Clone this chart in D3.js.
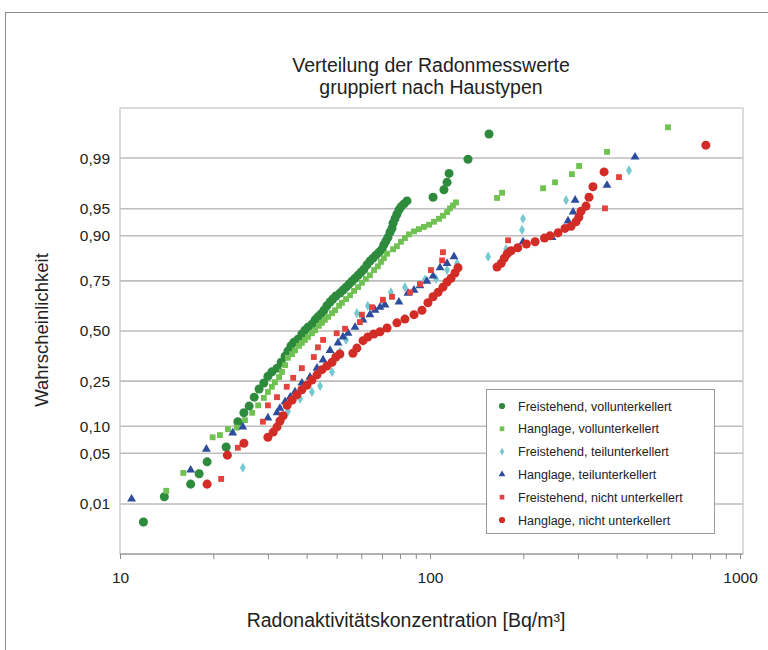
<!DOCTYPE html>
<html>
<head>
<meta charset="utf-8">
<script src="https://cdn.jsdelivr.net/npm/d3@7"></script>
<style>
  body { margin: 0; background: #fff; }
  svg text { font-family: "Liberation Sans", Arial, sans-serif; fill: #222; }
</style>
</head>
<body>
<div id="chart"></div>
<script>
// Values: concentration [Bq/m³] and normal score of the plotting position
const fvConc = [11.9,13.9,16.9,18.0,19.1,22.0,24.0,25.1,26.1,27.1,28.1,29.1,30.0,30.9,32.1,33.1,34.1,34.8,35.6,36.4,37.5,38.6,39.5,40.4,41.6,42.6,43.5,44.5,45.5,46.5,47.6,48.6,49.7,51.2,52.4,53.6,54.8,56.0,57.3,58.6,59.9,61.2,62.6,64.0,65.5,66.9,68.5,70.0,71.0,72.1,73.2,74.3,75.4,76.0,77.1,78.2,79.4,80.6,82.4,84.3,102.3,110.9,113.5,115.2,132.6,155.0];
const fvZ = [-2.57,-2.23,-2.06,-1.92,-1.76,-1.56,-1.22,-1.10,-1.01,-0.89,-0.78,-0.70,-0.61,-0.55,-0.50,-0.42,-0.34,-0.27,-0.20,-0.15,-0.11,-0.04,0.01,0.05,0.09,0.15,0.19,0.23,0.28,0.34,0.39,0.43,0.47,0.51,0.55,0.59,0.63,0.67,0.71,0.75,0.79,0.83,0.89,0.94,0.98,1.02,1.06,1.10,1.16,1.21,1.26,1.33,1.38,1.45,1.51,1.57,1.63,1.67,1.71,1.75,1.80,1.90,2.00,2.12,2.31,2.65];

const hvConc = [14.1,16.0,19.9,21.0,22.3,23.8,25.3,26.7,27.9,29.1,30.0,30.9,31.6,32.6,33.3,34.1,34.8,35.9,36.7,37.8,38.6,39.5,40.4,41.6,42.6,43.8,44.8,45.8,46.9,48.3,49.4,50.9,52.0,53.6,55.2,56.9,58.6,60.3,62.1,64.0,66.0,67.9,69.5,71.0,72.7,76.0,78.2,80.6,83.0,85.5,88.8,92.1,95.6,99.3,103.0,106.9,110.1,113.5,116.0,118.6,121.3,164.5,170.8,231.6,253.1,286.9,302.6,372.4,585.7];
const hvZ = [-2.15,-1.91,-1.43,-1.40,-1.32,-1.30,-1.20,-1.10,-1.00,-0.90,-0.82,-0.75,-0.69,-0.62,-0.55,-0.46,-0.36,-0.31,-0.26,-0.20,-0.16,-0.12,-0.08,-0.03,0.01,0.07,0.11,0.15,0.19,0.24,0.28,0.34,0.38,0.43,0.48,0.54,0.59,0.65,0.70,0.75,0.82,0.87,0.93,0.98,1.04,1.10,1.14,1.20,1.25,1.30,1.34,1.37,1.40,1.43,1.47,1.51,1.55,1.60,1.65,1.69,1.73,1.79,1.86,1.92,2.00,2.11,2.22,2.41,2.74];

const ftConc = [24.9,33.3,34.8,38.1,41.6,44.2,48.3,51.2,53.6,58.1,63.0,70.5,74.8,83.0,96.3,104.6,113.5,122.3,154.0,176.0,198.1,199.6,274.7,438.5];
const ftZ = [-1.84,-1.21,-1.08,-0.91,-0.82,-0.74,-0.55,-0.28,-0.12,0.24,0.34,0.40,0.52,0.59,0.69,0.70,0.82,0.91,1.00,1.10,1.36,1.51,1.76,2.16];

const htConc = [10.9,16.9,19.0,23.1,24.9,30.0,32.1,32.8,34.1,35.4,36.7,38.6,41.0,43.2,45.2,47.6,50.5,52.4,54.4,57.3,60.8,64.0,66.5,69.0,71.6,79.4,84.9,88.8,92.8,97.7,102.3,107.7,113.5,119.5,177.5,199.6,247.5,278.8,289.5,293.9,372.4,458.5];
const htZ = [-2.26,-1.87,-1.59,-1.37,-1.29,-1.17,-1.10,-1.04,-0.95,-0.89,-0.82,-0.70,-0.62,-0.50,-0.39,-0.26,-0.16,-0.08,-0.03,0.05,0.15,0.22,0.28,0.32,0.35,0.39,0.51,0.55,0.61,0.67,0.74,0.85,0.91,1.00,1.05,1.20,1.26,1.48,1.60,1.76,1.96,2.34];

const fnConc = [21.2,24.0,28.9,30.0,32.1,34.5,36.2,38.6,42.2,43.5,45.2,50.0,53.2,59.4,60.3,65.0,70.5,75.4,86.2,92.8,100.7,109.4,110.1,178.6,366.8,407.0];
const fnZ = [-1.99,-1.57,-1.22,-1.00,-0.89,-0.75,-0.63,-0.50,-0.35,-0.22,-0.12,-0.03,0.03,0.12,0.22,0.32,0.42,0.46,0.52,0.63,0.82,0.95,1.06,1.22,1.65,2.07];

const hnConc = [19.1,22.2,25.1,30.0,31.2,32.1,32.8,33.6,34.6,35.9,37.2,38.6,40.1,41.6,43.2,44.8,46.5,48.3,49.7,51.2,56.4,58.1,60.8,63.0,65.9,69.0,72.7,78.2,83.0,88.8,94.2,98.5,102.3,106.2,110.1,113.5,116.9,120.4,123.1,164.5,169.7,173.6,177.5,182.6,191.9,204.6,218.3,234.0,243.9,258.8,272.6,285.1,295.9,302.0,307.0,318.6,325.8,335.5,364.4,776.0];
const hnZ = [-2.06,-1.67,-1.51,-1.43,-1.36,-1.29,-1.21,-1.14,-1.00,-0.93,-0.86,-0.79,-0.73,-0.66,-0.59,-0.52,-0.47,-0.42,-0.35,-0.31,-0.30,-0.23,-0.13,-0.08,-0.04,-0.01,0.04,0.11,0.16,0.22,0.28,0.38,0.46,0.52,0.59,0.66,0.71,0.78,0.85,0.86,0.91,0.98,1.04,1.08,1.12,1.17,1.20,1.25,1.28,1.32,1.38,1.41,1.47,1.53,1.61,1.68,1.80,1.94,2.14,2.50];

const seriesNames = [
  "Freistehend, vollunterkellert",
  "Hanglage, vollunterkellert",
  "Freistehend, teilunterkellert",
  "Hanglage, teilunterkellert",
  "Freistehend, nicht unterkellert",
  "Hanglage, nicht unterkellert"
];
const probTicks = [0.01, 0.05, 0.10, 0.25, 0.50, 0.75, 0.90, 0.95, 0.99];
const probLabels = ["0,01", "0,05", "0,10", "0,25", "0,50", "0,75", "0,90", "0,95", "0,99"];
const concTicks = [10, 100, 1000];

// marker styles per series
const styles = [
  { color: "#2e8a3c", shape: d3.symbolCircle, size: 64, legendSize: 30 },
  { color: "#6fc151", shape: d3.symbolSquare, size: 34, legendSize: 22 },
  { color: "#74cad0", shape: d3.symbolDiamond, size: 30, legendSize: 18 },
  { color: "#2d4c9c", shape: d3.symbolTriangle, size: 34, legendSize: 20 },
  { color: "#e2433e", shape: d3.symbolSquare, size: 34, legendSize: 22 },
  { color: "#d22c27", shape: d3.symbolCircle, size: 64, legendSize: 30 }
];

const series = [
  [fvConc, fvZ], [hvConc, hvZ], [ftConc, ftZ], [htConc, htZ], [fnConc, fnZ], [hnConc, hnZ]
].map(([c, z], i) => ({
  name: seriesNames[i],
  style: styles[i],
  points: c.map((v, j) => ({ x: v, z: z[j] }))
}));

// inverse standard normal (Acklam) for probability tick positions
function probit(p) {
  const a = [-39.69683028665376, 220.9460984245205, -275.9285104469687, 138.3577518672690, -30.66479806614716, 2.506628277459239];
  const b = [-54.47609879822406, 161.5858368580409, -155.6989798598866, 66.80131188771972, -13.28068155288572];
  const c = [-0.007784894002430293, -0.3223964580411365, -2.400758277161838, -2.549732539343734, 4.374664141464968, 2.938163982698783];
  const d = [0.007784695709041462, 0.3224671290700398, 2.445134137142996, 3.754408661907416];
  const pl = 0.02425;
  let q, r;
  if (p < pl) {
    q = Math.sqrt(-2 * Math.log(p));
    return (((((c[0]*q+c[1])*q+c[2])*q+c[3])*q+c[4])*q+c[5]) / ((((d[0]*q+d[1])*q+d[2])*q+d[3])*q+1);
  } else if (p <= 1 - pl) {
    q = p - 0.5; r = q * q;
    return (((((a[0]*r+a[1])*r+a[2])*r+a[3])*r+a[4])*r+a[5])*q / (((((b[0]*r+b[1])*r+b[2])*r+b[3])*r+b[4])*r+1);
  }
  q = Math.sqrt(-2 * Math.log(1 - p));
  return -(((((c[0]*q+c[1])*q+c[2])*q+c[3])*q+c[4])*q+c[5]) / ((((d[0]*q+d[1])*q+d[2])*q+d[3])*q+1);
}

const W = 768, H = 650;
const plot = { left: 120, top: 108, right: 743, bottom: 554 };

const svg = d3.select("#chart").append("svg")
  .attr("width", W).attr("height", H);

// outer frame (only top and left edge visible)
svg.append("rect")
  .attr("x", 5.5).attr("y", 12.5).attr("width", 800).attr("height", 700)
  .attr("fill", "#fff").attr("stroke", "#8c8c8c").attr("stroke-width", 1);

const x = d3.scaleLog().domain([10, 1000]).range([plot.left, 740]);
const y = d3.scaleLinear().domain([-3, 3]).range([plot.bottom, plot.top]);

// title
svg.append("text")
  .attr("x", 431).attr("y", 72)
  .attr("text-anchor", "middle").attr("font-size", 19.5)
  .text("Verteilung der Radonmesswerte");
svg.append("text")
  .attr("x", 431).attr("y", 94)
  .attr("text-anchor", "middle").attr("font-size", 19.5)
  .text("gruppiert nach Haustypen");

// grid lines
svg.append("g")
  .selectAll("line")
  .data(probTicks)
  .join("line")
  .attr("x1", plot.left).attr("x2", plot.right)
  .attr("y1", d => y(probit(d))).attr("y2", d => y(probit(d)))
  .attr("stroke", "#bdbdbd").attr("stroke-width", 1.6);

// plot area border
svg.append("rect")
  .attr("x", plot.left).attr("y", plot.top)
  .attr("width", plot.right - plot.left).attr("height", plot.bottom - plot.top)
  .attr("fill", "none").attr("stroke", "#c4c4c4").attr("stroke-width", 1.2);

// y axis labels
const yAxis = svg.append("g")
  .attr("transform", `translate(${plot.left},0)`)
  .call(d3.axisLeft(y)
    .tickValues(probTicks.map(probit))
    .tickFormat((d, i) => probLabels[i])
    .tickSize(0).tickPadding(10));
yAxis.select(".domain").remove();
yAxis.selectAll("text")
  .attr("font-size", 15.5).attr("fill", "#222")
  .style("font-family", "Liberation Sans, Arial, sans-serif");

// x axis with minor log ticks
const minorTicks = [];
for (const dec of [10, 100]) {
  for (let k = 1; k <= 10; k++) minorTicks.push(dec * k);
}
const uniqTicks = Array.from(new Set(minorTicks));
const xAxis = svg.append("g")
  .attr("transform", `translate(0,${plot.bottom})`)
  .call(d3.axisBottom(x)
    .tickValues(uniqTicks)
    .tickFormat(d => concTicks.includes(d) ? String(d) : "")
    .tickSize(5).tickPadding(13));
xAxis.select(".domain")
  .attr("d", `M${plot.left},0H${plot.right}`)
  .attr("stroke", "#8a8a8a");
xAxis.selectAll(".tick line").attr("stroke", "#8a8a8a");
xAxis.selectAll("text")
  .attr("font-size", 15.5).attr("fill", "#222")
  .style("font-family", "Liberation Sans, Arial, sans-serif");

// axis titles
svg.append("text")
  .attr("x", 406).attr("y", 627)
  .attr("text-anchor", "middle").attr("font-size", 19.5)
  .text("Radonaktivitätskonzentration [Bq/m³]");
svg.append("text")
  .attr("transform", "translate(48,330) rotate(-90)")
  .attr("text-anchor", "middle").attr("font-size", 18.5)
  .text("Wahrscheinlichkeit");

// points
const sym = d3.symbol();
series.forEach(s => {
  svg.append("g")
    .selectAll("path")
    .data(s.points)
    .join("path")
    .attr("transform", d => `translate(${x(d.x)},${y(d.z)})`)
    .attr("d", sym.type(s.style.shape).size(s.style.size)())
    .attr("fill", s.style.color);
});

// legend
const legend = svg.append("g");
legend.append("rect")
  .attr("x", 486.5).attr("y", 389.5).attr("width", 228).attr("height", 144)
  .attr("fill", "#fff").attr("stroke", "#9a9a9a");
series.forEach((s, i) => {
  const ly = 406 + i * 22.8;
  legend.append("path")
    .attr("transform", `translate(502,${ly})`)
    .attr("d", d3.symbol().type(s.style.shape).size(s.style.legendSize)())
    .attr("fill", s.style.color);
  legend.append("text")
    .attr("x", 518).attr("y", ly + 4.5)
    .attr("font-size", 12.5)
    .text(s.name);
});
</script>
</body>
</html>
